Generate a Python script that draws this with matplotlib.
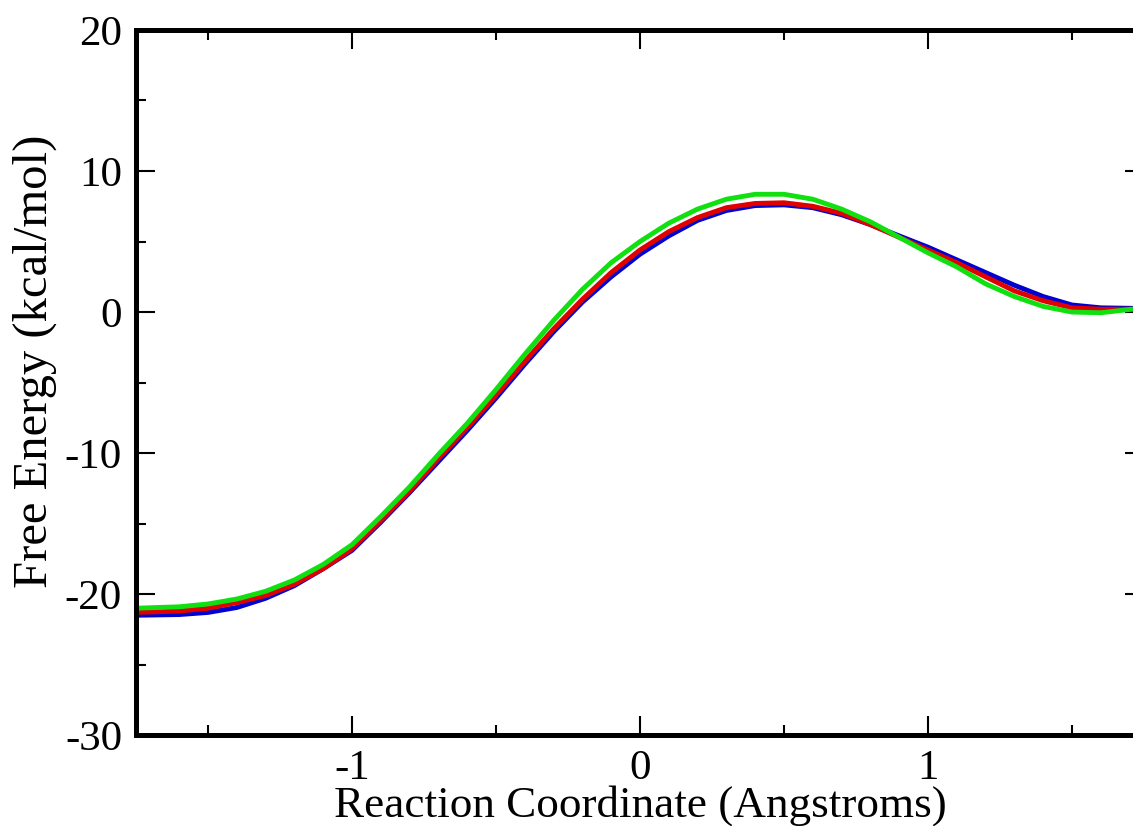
# ---------------------------------------------------------
# Free energy profile along the reaction coordinate
# ---------------------------------------------------------

import numpy as np
import matplotlib.pyplot as plt
from matplotlib.ticker import MultipleLocator

# ---------------------------------------------------------
# Data
# ---------------------------------------------------------

coord = [-1.75, -1.6, -1.5, -1.4, -1.3, -1.2, -1.1, -1.0, -0.9, -0.8,
         -0.7, -0.6, -0.5, -0.4, -0.3, -0.2, -0.1, 0.0, 0.1, 0.2,
         0.3, 0.4, 0.5, 0.6, 0.7, 0.8, 0.9, 1.0, 1.1, 1.2,
         1.3, 1.4, 1.5, 1.6, 1.75]

energy_blue = [-21.5, -21.45, -21.3, -20.95, -20.3, -19.4, -18.2, -16.9, -14.9, -12.8,
               -10.6, -8.4, -6.1, -3.7, -1.4, 0.7, 2.5, 4.1, 5.4, 6.5,
               7.2, 7.55, 7.6, 7.4, 6.9, 6.2, 5.4, 4.6, 3.7, 2.8,
               1.9, 1.1, 0.5, 0.3, 0.25]

energy_red = [-21.3, -21.2, -21.0, -20.6, -20.1, -19.3, -18.2, -16.8, -14.8, -12.7,
              -10.4, -8.2, -5.9, -3.5, -1.2, 0.9, 2.8, 4.4, 5.7, 6.7,
              7.4, 7.7, 7.75, 7.5, 7.0, 6.2, 5.3, 4.4, 3.5, 2.5,
              1.5, 0.8, 0.3, 0.2, 0.2]

energy_green = [-21.0, -20.9, -20.7, -20.35, -19.8, -19.0, -17.9, -16.5, -14.5, -12.4,
                -10.1, -7.9, -5.5, -3.0, -0.6, 1.6, 3.5, 5.0, 6.3, 7.3,
                8.0, 8.35, 8.35, 8.0, 7.3, 6.4, 5.3, 4.2, 3.2, 2.0,
                1.1, 0.4, 0.0, -0.05, 0.3]

# ---------------------------------------------------------
# Figure
# ---------------------------------------------------------

plt.rcParams["font.family"] = ["Liberation Serif", "DejaVu Serif"]
plt.rcParams["axes.unicode_minus"] = False

fig = plt.figure(figsize=(11.33, 8.26), dpi=100)
ax = fig.add_axes([0.12, 0.110, 0.8897, 0.8537])

ax.plot(coord, energy_blue, color="#0000d0", linewidth=3.5)
ax.plot(coord, energy_red, color="#e00000", linewidth=3.5)
ax.plot(coord, energy_green, color="#10e010", linewidth=3.5)

ax.set_xlim(-1.75, 1.75)
ax.set_ylim(-30, 20)

ax.xaxis.set_major_locator(MultipleLocator(1))
ax.xaxis.set_minor_locator(MultipleLocator(0.5))
ax.yaxis.set_major_locator(MultipleLocator(10))
ax.yaxis.set_minor_locator(MultipleLocator(5))

ax.tick_params(which="both", direction="in", top=True, right=True,
               labelsize=31, width=1.5)
ax.tick_params(which="major", length=14, pad=10)
ax.tick_params(which="minor", length=7)

for spine in ax.spines.values():
    spine.set_linewidth(3.6)

ax.set_xlabel("Reaction Coordinate (Angstroms)", fontsize=32.5, labelpad=-2)
ax.set_ylabel("Free Energy (kcal/mol)", fontsize=35)
ax.yaxis.set_label_coords(-0.078, 0.53)

fig.savefig("out.png", dpi=100)
